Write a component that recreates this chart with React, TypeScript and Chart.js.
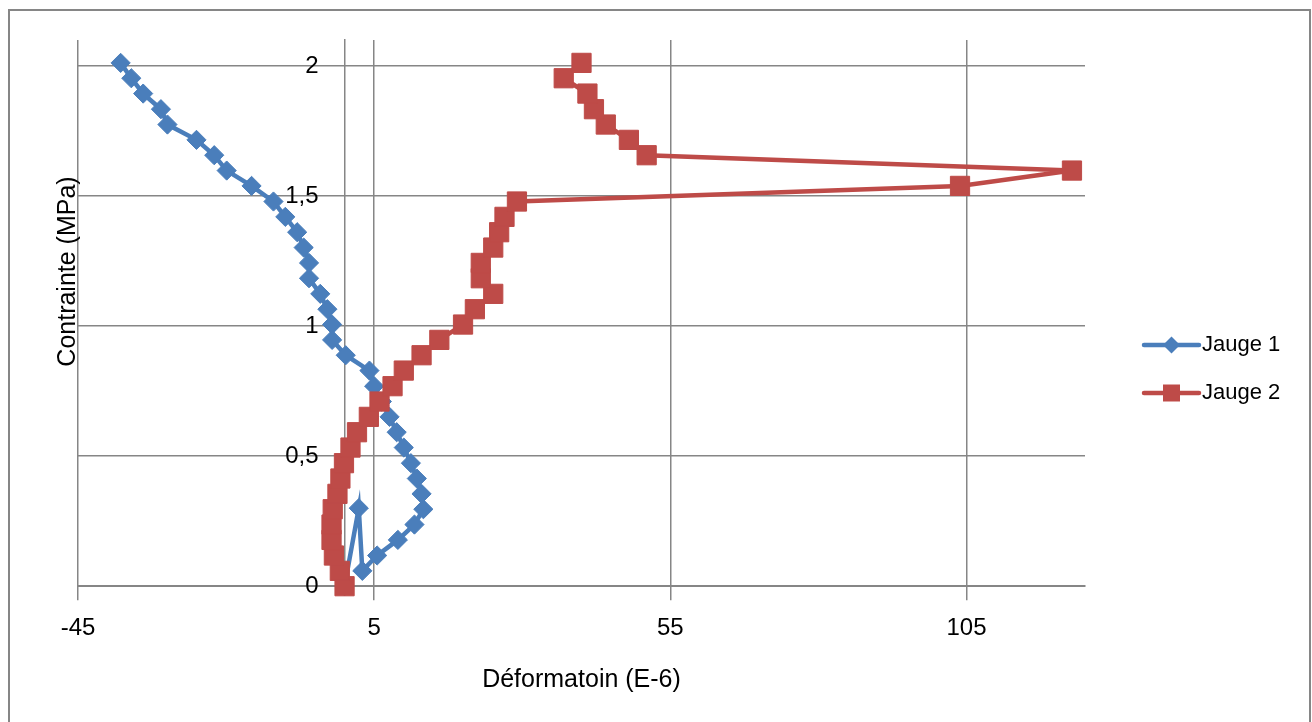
import React, { useEffect, useRef } from 'react';
import { Chart, registerables } from 'chart.js';

Chart.register(...registerables);

// ---- Data ----
const seriesLabels = ['Jauge 1', 'Jauge 2'];

// Contrainte (MPa) for Jauge 2
const jauge2Contrainte = [
  0, 0.059, 0.118, 0.178, 0.237, 0.296, 0.355, 0.414, 0.473, 0.533, 0.592, 0.651,
  0.71, 0.769, 0.829, 0.888, 0.947, 1.006, 1.065, 1.124, 1.184, 1.243, 1.302, 1.361,
  1.42, 1.479, 1.539, 1.598, 1.657, 1.716, 1.775, 1.834, 1.894, 1.953, 2.012,
];
// Déformation (E-6) for Jauge 2
const jauge2Deformation = [
  0, -0.8, -1.8, -2.2, -2.2, -2.0, -1.2, -0.7, -0.1, 1.0, 2.1, 4.1,
  5.9, 8.1, 10.0, 13.0, 16.0, 20.0, 22.0, 25.1, 23.0, 23.0, 25.1, 26.1,
  27.0, 29.1, 103.9, 122.8, 51.0, 48.0, 44.1, 42.1, 41.0, 37.0, 40.0,
];

// Contrainte (MPa) for Jauge 1
const jauge1Contrainte = [
  0, 0.3, 0.059, 0.118, 0.178, 0.237, 0.296, 0.355, 0.414, 0.473, 0.533, 0.592,
  0.651, 0.71, 0.769, 0.829, 0.888, 0.947, 1.006, 1.065, 1.124, 1.184, 1.243, 1.302,
  1.361, 1.42, 1.479, 1.539, 1.598, 1.657, 1.716, 1.775, 1.834, 1.894, 1.953, 2.012,
];
// Déformation (E-6) for Jauge 1
const jauge1Deformation = [
  0, 2.4, 3.0, 5.5, 9.0, 11.8, 13.3, 13.0, 12.2, 11.2, 10.0, 8.8,
  7.6, 6.3, 5.0, 4.2, 0.2, -2.1, -2.1, -2.9, -4.1, -6.0, -6.0, -6.9,
  -8.0, -10.0, -12.0, -15.7, -19.9, -22.0, -25.0, -29.9, -31.0, -34.0, -36.0, -37.8,
];

const xTickValues = [-45, 5, 55, 105];
const yTickValues = [0, 0.5, 1, 1.5, 2];
const xMin = -45;
const xMax = 125;
const yMin = 0;
const yMax = 2.1;
const yAxisCrossX = 0;
const yLabelOffsetX = -4.4; // where the y tick labels end (left of the axis line)

const xTitle = 'Déformatoin (E-6)';
const yTitle = 'Contrainte (MPa)';

// ---- Styles ----
const FONT = "'Liberation Sans', Arial, sans-serif";
const GRID = '#868686';
const TEXT = '#000000';
const BLUE = '#4A7EBB';
const RED = '#BE4B48';

const overlayPlugin = {
  id: 'overlay',
  afterDraw(chart: any) {
    const ctx = chart.ctx as CanvasRenderingContext2D;
    const area = chart.chartArea;
    // y axis title
    ctx.save();
    ctx.font = `25px ${FONT}`;
    ctx.fillStyle = TEXT;
    ctx.textAlign = 'center';
    ctx.textBaseline = 'middle';
    ctx.translate(area.left - 10, 260.5);
    ctx.rotate(-Math.PI / 2);
    ctx.fillText(yTitle, 0, 0);
    ctx.restore();

    // legend
    chart.data.datasets.forEach((ds: any, i: number) => {
      const y = 334 + i * 48;
      const x0 = area.right + 59;
      const x1 = x0 + 55;
      const cx = (x0 + x1) / 2;
      ctx.save();
      ctx.strokeStyle = ds.borderColor;
      ctx.lineWidth = 4.5;
      ctx.lineCap = 'round';
      ctx.beginPath();
      ctx.moveTo(x0, y);
      ctx.lineTo(x1, y);
      ctx.stroke();
      ctx.fillStyle = ds.pointBackgroundColor;
      ctx.beginPath();
      if (ds.pointStyle === 'rectRot') {
        const r = 8.5;
        ctx.moveTo(cx, y - r);
        ctx.lineTo(cx + r, y);
        ctx.lineTo(cx, y + r);
        ctx.lineTo(cx - r, y);
        ctx.closePath();
      } else {
        const h = 8.5;
        ctx.rect(cx - h, y - h, 2 * h, 2 * h);
      }
      ctx.fill();
      ctx.fillStyle = TEXT;
      ctx.font = `22px ${FONT}`;
      ctx.textAlign = 'left';
      ctx.textBaseline = 'middle';
      ctx.fillText(ds.label, x1 + 3, y);
      ctx.restore();
    });
  },
};

export default function App() {
  const ref = useRef<HTMLCanvasElement | null>(null);

  useEffect(() => {
    if (!ref.current) return;
    const setTicks = (values: number[]) => (scale: any) => {
      scale.ticks = values.map((v) => ({ value: v }));
    };
    const chart = new Chart(ref.current, {
      type: 'scatter',
      data: {
        datasets: [
          {
            label: seriesLabels[0],
            data: jauge1Deformation.map((x, i) => ({ x, y: jauge1Contrainte[i] })),
            showLine: true,
            borderColor: BLUE,
            backgroundColor: BLUE,
            borderWidth: 4.5,
            pointStyle: 'rectRot',
            pointRadius: 9.6,
            pointBorderWidth: 1,
            pointBackgroundColor: BLUE,
            pointBorderColor: BLUE,
            tension: 0,
            clip: false,
            order: 1,
          } as any,
          {
            label: seriesLabels[1],
            data: jauge2Deformation.map((x, i) => ({ x, y: jauge2Contrainte[i] })),
            showLine: true,
            borderColor: RED,
            backgroundColor: RED,
            borderWidth: 4.5,
            pointStyle: 'rect',
            pointRadius: 13.6,
            pointBorderWidth: 1,
            pointBackgroundColor: RED,
            pointBorderColor: RED,
            tension: 0,
            clip: false,
            order: 0,
          } as any,
        ],
      },
      options: {
        responsive: false,
        animation: false,
        devicePixelRatio: 1,
        layout: { padding: { left: 68, right: 224, top: 29, bottom: 27 } },
        plugins: {
          legend: { display: false },
          tooltip: { enabled: false },
        },
        scales: {
          x: {
            type: 'linear',
            min: xMin,
            max: xMax,
            afterBuildTicks: setTicks(xTickValues),
            ticks: {
              font: { family: FONT, size: 24 },
              color: TEXT,
              padding: 14,
              maxRotation: 0,
              autoSkip: false,
              callback: (v: any) => String(v),
            },
            grid: { color: GRID, lineWidth: 1.5, tickLength: 14, drawTicks: true },
            border: { display: true, color: GRID, width: 2 },
            title: {
              display: true,
              text: xTitle,
              color: TEXT,
              font: { family: FONT, size: 25 },
              padding: { top: 8, bottom: 0 },
            },
          },
          y: {
            type: 'linear',
            min: yMin,
            max: yMax,
            afterBuildTicks: setTicks(yTickValues),
            ticks: { display: false },
            grid: { color: GRID, lineWidth: 1.5, drawTicks: false },
            border: { display: false },
          },
          yLabels: {
            type: 'linear',
            position: { x: yLabelOffsetX },
            min: yMin,
            max: yMax,
            afterBuildTicks: setTicks(yTickValues),
            ticks: {
              font: { family: FONT, size: 24 },
              color: TEXT,
              padding: 0,
              callback: (v: any) => String(v).replace('.', ','),
            },
            grid: { display: false, drawTicks: false },
            border: { display: false },
          },
          yLine: {
            type: 'linear',
            position: { x: yAxisCrossX },
            min: yMin,
            max: yMax,
            ticks: { display: false, padding: 0 },
            grid: { display: false, drawTicks: false },
            border: { display: true, color: GRID, width: 1.5 },
          },
        } as any,
      },
      plugins: [overlayPlugin],
    });
    return () => chart.destroy();
  }, []);

  return (
    <div
      style={{
        position: 'fixed',
        left: 8,
        top: 9,
        width: 1299,
        height: 730,
        border: '2px solid #868686',
        background: '#ffffff',
      }}
    >
      <canvas ref={ref} width={1299} height={711} style={{ display: 'block' }} />
    </div>
  );
}
